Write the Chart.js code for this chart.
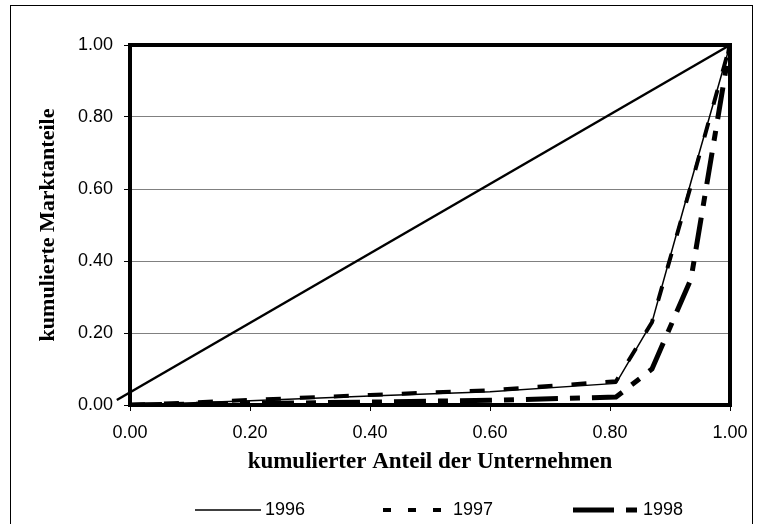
<!DOCTYPE html>
<html lang="de">
<head>
<meta charset="utf-8">
<title>Lorenzkurven 1996-1998</title>
<script src="https://cdn.jsdelivr.net/npm/chart.js@4.4.1/dist/chart.umd.min.js"></script>
<style>
  html, body { margin: 0; padding: 0; background: #fff; }
  #wrap { width: 760px; height: 524px; }
</style>
</head>
<body>
<div id="wrap"><canvas id="lorenz" width="760" height="524"></canvas></div>
<script>
// kumulierter Anteil der Unternehmen (x-Werte)
const anteilUnternehmen = [0, 0.2, 0.4, 0.6, 0.81, 0.87, 0.935, 1];
// kumulierte Marktanteile je Jahr (y-Werte)
const markt1996 = [0, 0.012, 0.025, 0.037, 0.060, 0.23, 0.62, 1];
const markt1997 = [0, 0.014, 0.028, 0.041, 0.066, 0.23, 0.61, 1];
const markt1998 = [0, 0.004, 0.008, 0.013, 0.022, 0.10, 0.35, 1];
// Gleichverteilungsgerade (beginnt im Original knapp links vom Ursprung)
const gleichX = [-0.022, 1];
const gleichY = [0.014, 1];
const jahre = ["1996", "1997", "1998"];
const achsenTicks = [0, 0.2, 0.4, 0.6, 0.8, 1];

const tickFont = { family: "'Liberation Sans', Arial, sans-serif", size: 18 };
const titelFont = { family: "'Liberation Serif', 'Times New Roman', serif", size: 22, weight: "bold" };

function punkte(xs, ys) {
  return xs.map((x, i) => ({ x: x, y: ys[i] }));
}

// Helper: feste Ticks 0.00 .. 1.00
function setzeTicks(scale) {
  scale.ticks = achsenTicks.map(v => ({ value: v }));
}

// Rahmen: duenner Aussenrahmen + dicker Rahmen um die Zeichenflaeche
const rahmenPlugin = {
  id: "rahmen",
  beforeDatasetsDraw(chart) {
    const { ctx, chartArea: a } = chart;
    ctx.save();
    ctx.strokeStyle = "#000";
    ctx.lineWidth = 1;
    ctx.strokeRect(10.5, 5.5, 742, 540);
    ctx.lineWidth = 4;
    ctx.strokeRect(a.left, a.top, a.right - a.left, a.bottom - a.top);
    ctx.restore();
  }
};

// Legende unten, von Hand gezeichnet (Linienmuster wie im Original)
const legendePlugin = {
  id: "legende",
  afterDraw(chart) {
    const ctx = chart.ctx;
    const y = 510;
    const eintraege = [
      { x: 195, ds: 1, dash: [] },
      { x: 383, ds: 2, dash: [8, 17] },
      { x: 573, ds: 3, dash: [41, 12, 11, 40] }
    ];
    ctx.save();
    eintraege.forEach((e, i) => {
      const ds = chart.data.datasets[e.ds];
      ctx.beginPath();
      ctx.setLineDash(e.dash);
      ctx.lineWidth = ds.borderWidth;
      ctx.strokeStyle = ds.borderColor;
      ctx.moveTo(e.x, y);
      ctx.lineTo(e.x + 66, y);
      ctx.stroke();
      ctx.setLineDash([]);
      ctx.fillStyle = "#000";
      ctx.font = "18px 'Liberation Sans', Arial, sans-serif";
      ctx.textBaseline = "middle";
      ctx.fillText(jahre[i], e.x + 70, y);
    });
    ctx.restore();
  }
};

function renderLorenz() {
  const ctx = document.getElementById("lorenz");

  new Chart(ctx, {
    type: "scatter",
    data: {
      datasets: [
        {
          label: "Gleichverteilung",
          data: punkte(gleichX, gleichY),
          borderColor: "#000",
          borderWidth: 2.5,
          clip: false
        },
        {
          label: jahre[0],
          data: punkte(anteilUnternehmen, markt1996),
          borderColor: "#000",
          borderWidth: 1.5
        },
        {
          label: jahre[1],
          data: punkte(anteilUnternehmen, markt1997),
          borderColor: "#000",
          borderWidth: 4,
          borderDash: [15, 19]
        },
        {
          label: jahre[2],
          data: punkte(anteilUnternehmen, markt1998),
          borderColor: "#000",
          borderWidth: 5,
          borderDash: [32, 12, 10, 12]
        }
      ]
    },
    options: {
      responsive: false,
      animation: false,
      showLine: true,
      elements: { point: { radius: 0 }, line: { tension: 0, borderCapStyle: "butt" } },
      layout: { padding: { top: 45, right: 30, left: 0, bottom: 0 } },
      plugins: {
        legend: { display: false },
        tooltip: { enabled: false }
      },
      scales: {
        x: {
          type: "linear",
          position: "bottom",
          min: 0,
          max: 1,
          afterBuildTicks: setzeTicks,
          afterFit: s => { s.height = 119; },
          border: { display: false },
          grid: { drawOnChartArea: false, drawTicks: true, tickLength: 6, tickColor: "#000" },
          ticks: { font: tickFont, color: "#000", padding: 11, maxRotation: 0, callback: v => v.toFixed(2) },
          title: { display: true, text: "kumulierter Anteil der Unternehmen", font: { family: titelFont.family, size: 23, weight: "bold" }, color: "#000", padding: { top: 0, bottom: 48 } }
        },
        y: {
          type: "linear",
          min: 0,
          max: 1,
          afterBuildTicks: setzeTicks,
          afterFit: s => { s.width = 130; },
          border: { display: false },
          grid: { color: "#808080", lineWidth: 1, drawTicks: true, tickLength: 6, tickColor: "#000" },
          ticks: { font: tickFont, color: "#000", padding: 11, callback: v => v.toFixed(2) },
          title: { display: true, text: "kumulierte Marktanteile", font: titelFont, color: "#000", padding: { top: 35, bottom: 0 } }
        }
      }
    },
    plugins: [rahmenPlugin, legendePlugin]
  });
}

document.addEventListener("DOMContentLoaded", renderLorenz);
</script>
</body>
</html>
